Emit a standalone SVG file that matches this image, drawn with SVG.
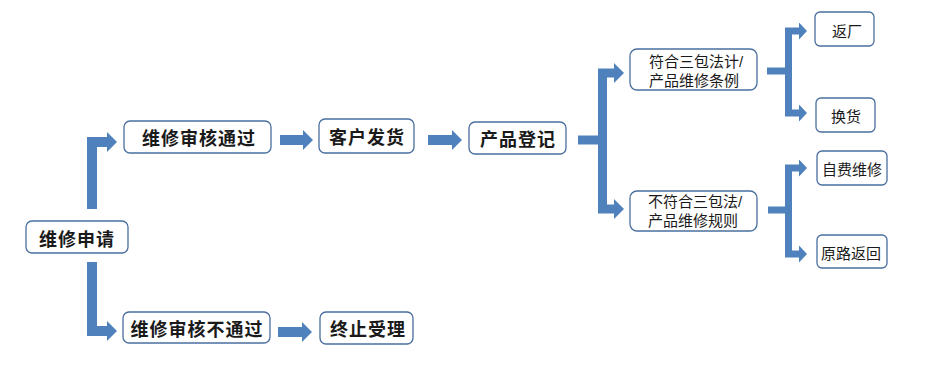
<svg xmlns="http://www.w3.org/2000/svg" width="931" height="385" viewBox="0 0 931 385">
<style>
.box{fill:#fff;stroke:#4a6f9f;stroke-width:1.3}
.t{font-family:"Noto Sans CJK SC","Noto Sans",sans-serif;fill:#1a1a1a;dominant-baseline:central}
.b{font-size:18px;font-weight:bold;letter-spacing:1px;text-anchor:middle}
.n{font-size:15px}
.n2{font-family:"Liberation Sans","Noto Sans CJK SC",sans-serif;font-size:15px}
.m{text-anchor:middle}
.c{fill:none;stroke:#4f81bd;stroke-linejoin:miter}
.w1{stroke-width:10}
.w2{stroke-width:9}
.w3{stroke-width:7}
</style>
<defs>
<marker id="ab" markerUnits="userSpaceOnUse" markerWidth="10" markerHeight="20" viewBox="0 0 10 20" refX="0" refY="10" orient="auto"><path d="M0,0 L10,10 L0,20 Z" fill="#4f81bd"/></marker>
<marker id="as" markerUnits="userSpaceOnUse" markerWidth="8" markerHeight="17" viewBox="0 0 8 17" refX="0" refY="8.5" orient="auto"><path d="M0,0 L8,8.5 L0,17 Z" fill="#4f81bd"/></marker>
</defs>
<g id="connectors">
<polyline class="c w1" points="92,209 92,142 107,142" marker-end="url(#ab)"/>
<polyline class="c w1" points="92,262 92,331 107,331" marker-end="url(#ab)"/>
<polyline class="c w1" points="280,140 303,140" marker-end="url(#ab)"/>
<polyline class="c w1" points="428,140 452,140" marker-end="url(#ab)"/>
<polyline class="c w1" points="278,332 302,332" marker-end="url(#ab)"/>
<polyline class="c w2" points="578,140 607,140"/>
<polyline class="c w2" points="602.5,140 602.5,73 614,73" marker-end="url(#ab)"/>
<polyline class="c w2" points="602.5,140 602.5,209 614,209" marker-end="url(#ab)"/>
<polyline class="c w3" points="767,71 792,71"/>
<polyline class="c w3" points="788.5,71 788.5,31 799,31" marker-end="url(#as)"/>
<polyline class="c w3" points="788.5,71 788.5,113 799,113" marker-end="url(#as)"/>
<polyline class="c w3" points="768,210 792,210"/>
<polyline class="c w3" points="788.5,210 788.5,168 799,168" marker-end="url(#as)"/>
<polyline class="c w3" points="788.5,210 788.5,254 799,254" marker-end="url(#as)"/>
</g>
<g id="n_apply"><rect class="box" x="26" y="221" width="102" height="32" rx="6"/><text class="t b" x="77" y="238">维修申请</text></g>
<g id="n_pass"><rect class="box" x="124" y="121" width="147" height="32" rx="6"/><text class="t b" x="199" y="137">维修审核通过</text></g>
<g id="n_fail"><rect class="box" x="123" y="312" width="147" height="31" rx="6"/><text class="t b" x="197" y="328">维修审核不通过</text></g>
<g id="n_ship"><rect class="box" x="319" y="119" width="95" height="34" rx="6"/><text class="t b" x="367" y="136">客户发货</text></g>
<g id="n_reg"><rect class="box" x="469" y="122" width="97" height="32" rx="6"/><text class="t b" x="518" y="138">产品登记</text></g>
<g id="n_stop"><rect class="box" x="320" y="312" width="93" height="32" rx="6"/><text class="t b" x="368" y="328">终止受理</text></g>
<g id="n_ok"><rect class="box" x="630" y="49" width="127" height="41" rx="7"/><text class="t n2" x="649" y="61">符合三包法计/</text><text class="t n2" x="649" y="80">产品维修条例</text></g>
<g id="n_notok"><rect class="box" x="630" y="191" width="127" height="40" rx="7"/><text class="t n2" x="648" y="201.5">不符合三包法/</text><text class="t n2" x="648" y="220.5">产品维修规则</text></g>
<g id="n_return"><rect class="box" x="815" y="12" width="59" height="34" rx="5"/><text class="t n m" x="847" y="30">返厂</text></g>
<g id="n_swap"><rect class="box" x="816" y="98" width="59" height="34" rx="5"/><text class="t n m" x="846" y="115">换货</text></g>
<g id="n_self"><rect class="box" x="817" y="151" width="70" height="34" rx="5"/><text class="t n m" x="852" y="168">自费维修</text></g>
<g id="n_back"><rect class="box" x="817" y="235" width="70" height="33" rx="5"/><text class="t n m" x="851" y="252">原路返回</text></g>
</svg>
